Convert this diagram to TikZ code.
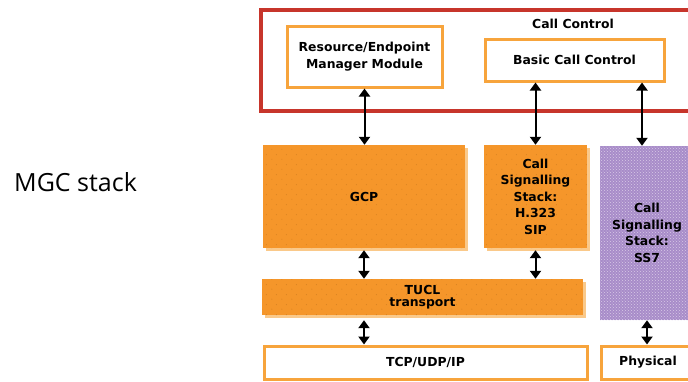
\documentclass[tikz,border=0pt]{standalone}
\usepackage{fontspec}
\setmainfont{DejaVu Sans}
\newfontfamily\titlefont{Open Sans}
\usetikzlibrary{arrows.meta,shadows,patterns,patterns.meta}

\definecolor{stackorange}{HTML}{F5962A}
\definecolor{shadeorange}{HTML}{FAC98A}
\definecolor{edgeorange}{HTML}{F7A43C}
\definecolor{ctrlred}{HTML}{C7352B}
\definecolor{ss7purple}{HTML}{A88CC9}

% sparse speckle used on the orange layers
\tikzdeclarepattern{
  name=sparsedots,
  type=uncolored,
  bottom left={(0pt,0pt)},
  top right={(10pt,10pt)},
  tile size={(10pt,10pt)},
  code={\fill (2pt,3pt) circle (0.6pt); \fill (7pt,8pt) circle (0.6pt);}
}

\tikzset{
  boxtext/.style={font=\fontsize{12.4}{16.5}\selectfont\bfseries, align=center, text=black},
  outlinebox/.style={boxtext, draw=edgeorange, line width=3pt, fill=white, inner sep=0pt},
  layerbox/.style={boxtext, fill=stackorange, inner sep=0pt,
    drop shadow={shadow xshift=3pt, shadow yshift=-3pt, fill=shadeorange, opacity=1},
    postaction={pattern=sparsedots, pattern color=stackorange!88!black}},
  ss7box/.style={boxtext, fill=ss7purple, inner sep=0pt,
    postaction={pattern=crosshatch dots, pattern color=white!55!ss7purple}},
  dbl/.style={{Triangle[width=11pt,length=8pt]}-{Triangle[width=11pt,length=8pt]}, line width=2pt, black}
}

\begin{document}
\begin{tikzpicture}[x=1pt,y=-1pt]
\useasboundingbox (0,0) rectangle (688,381);
\clip (0,0) rectangle (688,381);

% side caption
\node[font=\titlefont\fontsize{25}{28}\selectfont, anchor=west, inner sep=0pt] (caption) at (14,182) {MGC stack};

% call control frame
\node[draw=ctrlred, line width=3.5pt, minimum width=440pt, minimum height=101pt, inner sep=0pt] (ctrl) at (481,60.5) {};
\node[boxtext] (ctrltitle) at (573,24) {Call Control};
\node[outlinebox, minimum width=155pt, minimum height=61pt] (rem) at (364.5,56.5) {Resource/Endpoint\\Manager Module};
\node[outlinebox, minimum width=179pt, minimum height=42pt] (bcc) at (574.5,60) {Basic Call Control};

% signalling layers
\node[layerbox, minimum width=202pt, minimum height=103pt] (gcp) at (364,196.5) {GCP};
\node[layerbox, minimum width=103pt, minimum height=103pt] (sig) at (535.5,196.5) {Call\\Signalling\\Stack:\\H.323\\SIP};
\node[ss7box, minimum width=94pt, minimum height=174pt] (ss7) at (647,233) {Call\\Signalling\\Stack:\\SS7};

% transport
\node[layerbox, minimum width=321pt, minimum height=36pt, font=\fontsize{12.4}{12.5}\selectfont\bfseries] (tucl) at (422.5,297) {TUCL\\transport};
\node[outlinebox, minimum width=323pt, minimum height=33pt] (tcp) at (425.5,362.5) {TCP/UDP/IP};
\node[outlinebox, minimum width=94pt, minimum height=33pt] (phys) at (648,362.5) {Physical};

% connectors
\draw[dbl] (rem.south) -- (rem.south |- gcp.north);
\draw[dbl] (sig.north |- bcc.south) -- (sig.north);
\draw[dbl] ([xshift=-5pt]ss7.north |- bcc.south) -- ([xshift=-5pt]ss7.north);
\draw[dbl, shorten <=2pt] (gcp.south) -- (gcp.south |- tucl.north);
\draw[dbl, shorten <=2pt] (sig.south) -- (sig.south |- tucl.north);
\draw[dbl, shorten <=5pt] (tucl.south -| gcp.south) -- (gcp.south |- tcp.north);
\draw[dbl] (ss7.south) -- (ss7.south |- phys.north);
\end{tikzpicture}
\end{document}
